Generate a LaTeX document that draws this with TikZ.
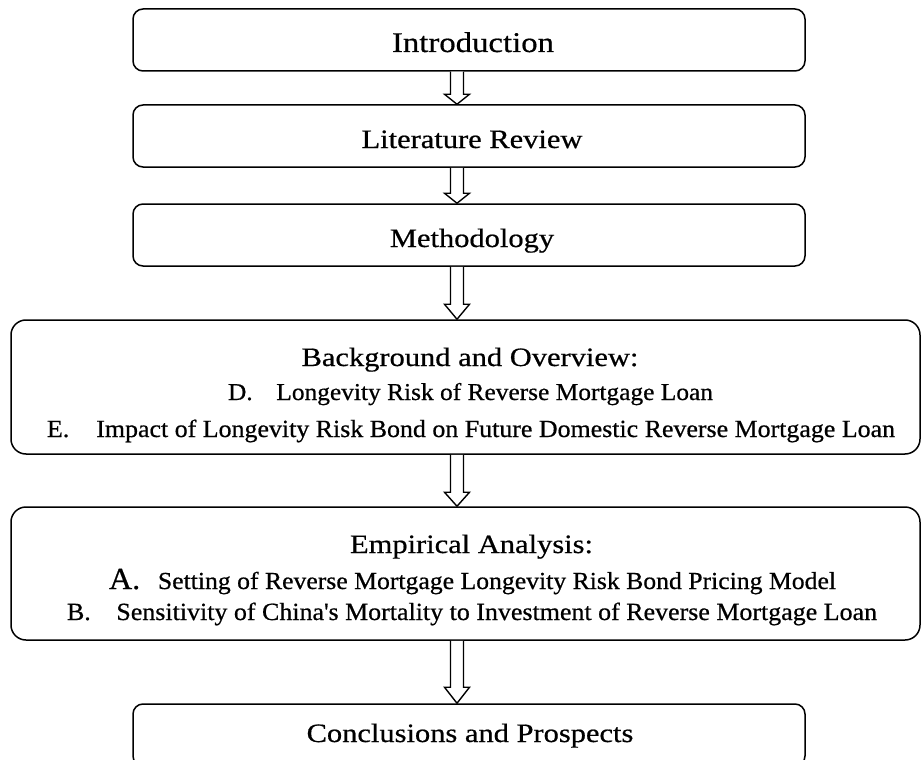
\documentclass[tikz,border=0pt]{standalone}
\usepackage{fontspec}
\setmainfont{Liberation Serif}[FakeStretch=1.15,FakeBold=0.6]
\newfontfamily\subfam{Liberation Serif}[FakeStretch=1.05,FakeBold=0.6]
\usepackage{graphicx}
\usetikzlibrary{calc}
\newcommand{\titlefont}{\fontsize{26.5}{30}\selectfont}
\newcommand{\bigtitlefont}{\fontsize{28.5}{32}\selectfont}
\newcommand{\subfont}{\subfam\fontsize{20}{24}\selectfont}
\newcommand{\subline}[3]{\resizebox{#1}{!}{\subfont\makebox[2.0em][l]{#2}#3}}
% hollow block arrow between two named nodes: #1 from, #2 to, #3 head length
\newcommand{\blockarrow}[3]{%
  \draw[blockline] let \p1=(#1.south), \p2=(#2.north) in
    ({457pt-6.5pt},\y1) -- ({457pt-6.5pt},{\y2+#3}) -- ({457pt-12.5pt},{\y2+#3})
    -- (457pt,\y2) -- ({457pt+12.5pt},{\y2+#3}) -- ({457pt+6.5pt},{\y2+#3})
    -- ({457pt+6.5pt},\y1);}
\begin{document}
\begin{tikzpicture}[x=1pt,y=-1pt,
  smallbox/.style={draw, line width=1.5pt, rounded corners=10pt, minimum width=672pt, minimum height=62pt, inner sep=0pt},
  bigbox/.style={draw, line width=1.5pt, rounded corners=15pt, minimum width=909pt, inner sep=0pt},
  blockline/.style={draw, line width=1.4pt, fill=white, line join=miter},
  txt/.style={anchor=base, inner sep=0pt}]
\clip (0,0) rectangle (922,760);
\fill[white] (0,0) rectangle (922,760);

% boxes
\node[smallbox] (b1) at (469,40) {};
\node[smallbox] (b2) at (469,136) {};
\node[smallbox] (b3) at (469,235) {};
\node[bigbox, minimum height=134pt] (b4) at (465.5,387) {};
\node[bigbox, minimum height=133pt] (b5) at (465.5,573.5) {};
\node[smallbox] (b6) at (469,735) {};

% arrows
\blockarrow{b1}{b2}{10pt}
\blockarrow{b2}{b3}{10pt}
\blockarrow{b3}{b4}{15pt}
\blockarrow{b4}{b5}{14pt}
\blockarrow{b5}{b6}{16pt}

% texts
\node[txt] (t1) at (473,52) {\bigtitlefont Introduction};
\node[txt] (t2) at (472,148) {\titlefont Literature Review};
\node[txt] (t3) at (472,247) {\titlefont Methodology};
\node[txt] (t4) at (470,366) {\titlefont Background and Overview:};
\node[txt] (t4d) at (470.5,400) {\subline{485pt}{D.}{Longevity Risk of Reverse Mortgage Loan}};
\node[txt] (t4e) at (471,437) {\subline{848pt}{E.}{Impact of Longevity Risk Bond on Future Domestic Reverse Mortgage Loan}};
\node[txt] (t5) at (471.5,553) {\titlefont Empirical Analysis:};
\node[txt] (t5a) at (472.5,589) {\subline{727pt}{\fontsize{25}{28}\selectfont A.}{Setting of Reverse Mortgage Longevity Risk Bond Pricing Model}};
\node[txt] (t5b) at (472,620) {\subline{810pt}{B.}{Sensitivity of China\textquotesingle s Mortality to Investment of Reverse Mortgage Loan}};
\node[txt] (t6) at (470,742) {\titlefont Conclusions and Prospects};
\end{tikzpicture}
\end{document}
